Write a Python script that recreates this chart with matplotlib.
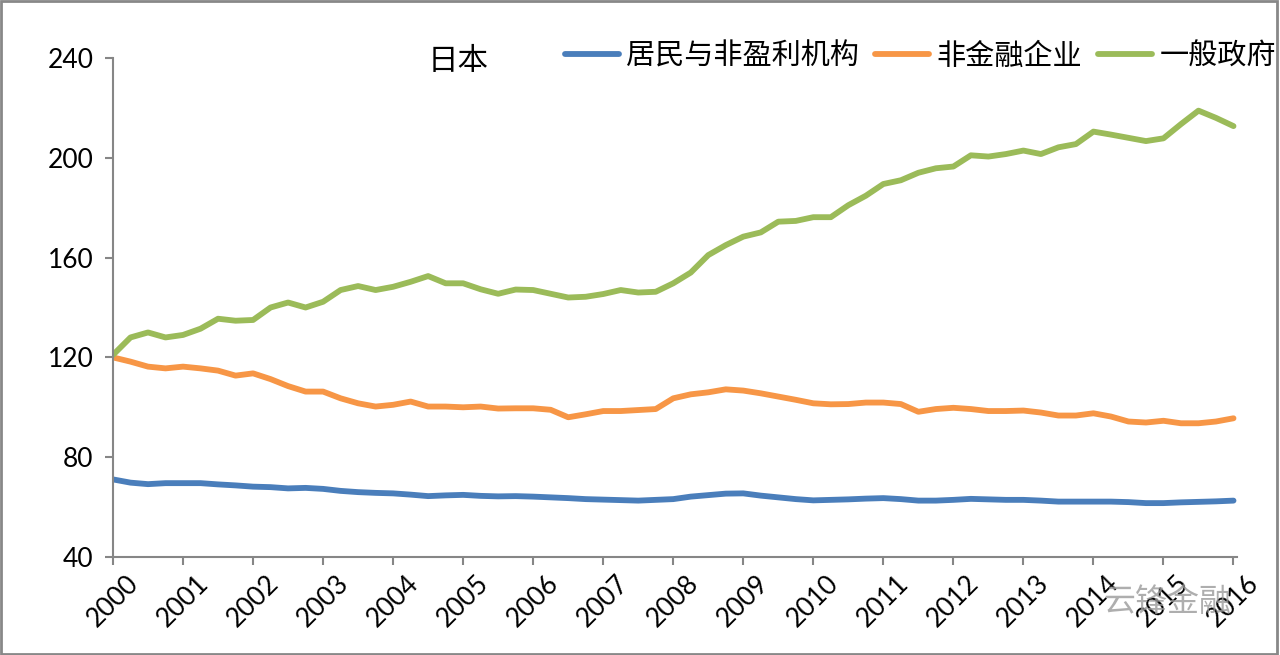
import matplotlib.pyplot as plt
from matplotlib.patches import Rectangle

# quarterly data, 2000Q1 .. 2016Q1
years = list(range(2000, 2017))

households = [71.1, 69.8, 69.2, 69.6, 69.6, 69.6, 69.1, 68.7, 68.2, 68.0,
              67.5, 67.7, 67.3, 66.5, 66.0, 65.7, 65.5, 65.0, 64.4, 64.7,
              64.9, 64.5, 64.3, 64.4, 64.2, 63.9, 63.6, 63.2, 63.0, 62.8,
              62.6, 62.9, 63.2, 64.2, 64.8, 65.4, 65.5, 64.6, 63.9, 63.2,
              62.7, 62.9, 63.1, 63.4, 63.6, 63.2, 62.6, 62.6, 62.9, 63.3,
              63.1, 62.9, 62.9, 62.6, 62.2, 62.2, 62.2, 62.2, 62.0, 61.6,
              61.6, 61.9, 62.1, 62.3, 62.6]

nonfin_corp = [120.0, 118.3, 116.3, 115.6, 116.3, 115.6, 114.7, 112.7, 113.6, 111.3,
               108.5, 106.3, 106.3, 103.6, 101.6, 100.3, 101.0, 102.3, 100.3, 100.3,
               100.0, 100.3, 99.5, 99.6, 99.6, 99.0, 96.0, 97.2, 98.5, 98.5,
               98.9, 99.3, 103.6, 105.2, 106.0, 107.2, 106.7, 105.6, 104.3, 103.0,
               101.6, 101.2, 101.3, 101.9, 101.9, 101.3, 98.2, 99.3, 99.8, 99.3,
               98.5, 98.5, 98.7, 97.9, 96.7, 96.7, 97.6, 96.3, 94.3, 93.9,
               94.6, 93.6, 93.6, 94.3, 95.6]

government = [121.0, 128.0, 130.0, 128.0, 129.0, 131.5, 135.5, 134.7, 135.0, 140.0,
              142.0, 140.0, 142.3, 147.0, 148.6, 147.0, 148.3, 150.3, 152.6, 149.7,
              149.7, 147.3, 145.5, 147.2, 147.0, 145.5, 144.0, 144.3, 145.4, 147.0,
              146.0, 146.3, 149.7, 154.0, 161.0, 165.0, 168.4, 170.1, 174.4, 174.7,
              176.2, 176.2, 181.0, 184.8, 189.5, 191.0, 194.0, 195.8, 196.5, 201.0,
              200.5, 201.5, 202.9, 201.5, 204.2, 205.5, 210.5, 209.3, 208.0, 206.7,
              207.8, 213.5, 218.9, 216.0, 212.7]

labels = ['居民与非盈利机构', '非金融企业', '一般政府']
colors = ['#4A7EBB', '#F79646', '#9BBB59']

plt.rcParams['font.family'] = ['Lato', 'Noto Sans CJK SC', 'DejaVu Sans']

fig = plt.figure(figsize=(12.8, 6.55), dpi=100)
ax = fig.add_axes([113 / 1280, 1 - 557 / 655, (1237 - 113) / 1280, (557 - 58) / 655])

x = list(range(len(government)))
for series, lab, col in zip([households, nonfin_corp, government], labels, colors):
    ax.plot(x, series, color=col, lw=4.2, label=lab, solid_capstyle='round')

ax.set_xlim(0, 64.2)
ax.set_ylim(40, 240)
ax.set_yticks(range(40, 241, 40))
ax.set_xticks(range(0, 65, 4))
ax.set_xticklabels([str(y) for y in years], rotation=45, ha='center')

for side in ['top', 'right']:
    ax.spines[side].set_visible(False)
for side in ['left', 'bottom']:
    ax.spines[side].set_color('#868686')
    ax.spines[side].set_linewidth(1.5)
ax.tick_params(axis='both', direction='out', length=6, width=1.5, color='#868686',
               labelsize=19)
ax.tick_params(axis='y', pad=8)
ax.tick_params(axis='x', pad=4)

fig.text(428 / 1280, 1 - 61 / 655, '日本', fontsize=22, va='center', ha='left',
         family=['Noto Sans CJK SC'])

fig.legend(loc='center right', bbox_to_anchor=(1276 / 1280, 1 - 56 / 655), ncol=3,
           frameon=False, fontsize=21, handlelength=1.85, handletextpad=0.25,
           columnspacing=0.55, borderaxespad=0, borderpad=0)

# watermark
fig.text(1103 / 1280, 1 - 602 / 655, '云锋金融', fontsize=23, color='#9a9a9a', alpha=0.8,
         va='center', ha='left', family=['Noto Sans CJK SC'])

# outer frame
fig.patches.append(Rectangle((0.001, 0.001), 0.997, 0.997, transform=fig.transFigure,
                             fill=False, edgecolor='#888888', lw=2))

fig.savefig('out.png', dpi=100)
